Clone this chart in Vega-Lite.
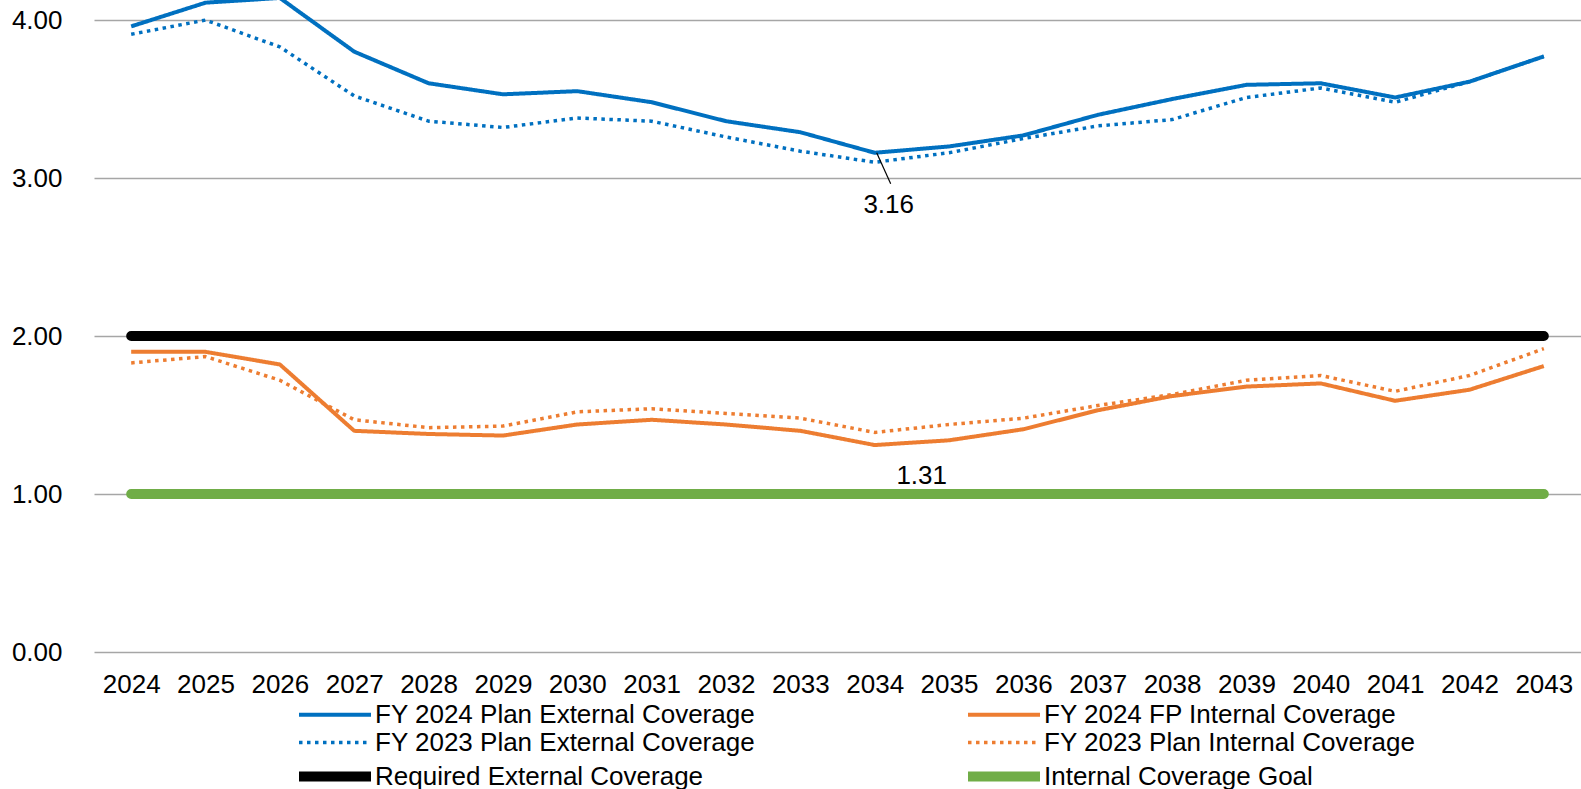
{
  "$schema": "https://vega.github.io/schema/vega-lite/v6.json",
  "width": 1487,
  "height": 652,
  "autosize": {"type": "none"},
  "padding": {"left": 94, "top": 0, "right": 0, "bottom": 137},
  "background": "white",
  "config": {
    "font": "Liberation Sans",
    "view": {"stroke": null},
    "legend": {
      "labelFont": "Liberation Sans",
      "labelFontSize": 26,
      "labelColor": "black",
      "labelLimit": 0,
      "labelOffset": 5,
      "symbolSize": 625,
      "padding": 0
    }
  },
  "data": {
    "values": [
      {"year": 2024, "series": "FY 2024 Plan External Coverage", "value": 3.96},
      {"year": 2025, "series": "FY 2024 Plan External Coverage", "value": 4.11},
      {"year": 2026, "series": "FY 2024 Plan External Coverage", "value": 4.14},
      {"year": 2027, "series": "FY 2024 Plan External Coverage", "value": 3.80},
      {"year": 2028, "series": "FY 2024 Plan External Coverage", "value": 3.60},
      {"year": 2029, "series": "FY 2024 Plan External Coverage", "value": 3.53},
      {"year": 2030, "series": "FY 2024 Plan External Coverage", "value": 3.55},
      {"year": 2031, "series": "FY 2024 Plan External Coverage", "value": 3.48},
      {"year": 2032, "series": "FY 2024 Plan External Coverage", "value": 3.36},
      {"year": 2033, "series": "FY 2024 Plan External Coverage", "value": 3.29},
      {"year": 2034, "series": "FY 2024 Plan External Coverage", "value": 3.16},
      {"year": 2035, "series": "FY 2024 Plan External Coverage", "value": 3.20},
      {"year": 2036, "series": "FY 2024 Plan External Coverage", "value": 3.27},
      {"year": 2037, "series": "FY 2024 Plan External Coverage", "value": 3.40},
      {"year": 2038, "series": "FY 2024 Plan External Coverage", "value": 3.50},
      {"year": 2039, "series": "FY 2024 Plan External Coverage", "value": 3.59},
      {"year": 2040, "series": "FY 2024 Plan External Coverage", "value": 3.60},
      {"year": 2041, "series": "FY 2024 Plan External Coverage", "value": 3.51},
      {"year": 2042, "series": "FY 2024 Plan External Coverage", "value": 3.61},
      {"year": 2043, "series": "FY 2024 Plan External Coverage", "value": 3.77},

      {"year": 2024, "series": "FY 2023 Plan External Coverage", "value": 3.91},
      {"year": 2025, "series": "FY 2023 Plan External Coverage", "value": 4.00},
      {"year": 2026, "series": "FY 2023 Plan External Coverage", "value": 3.83},
      {"year": 2027, "series": "FY 2023 Plan External Coverage", "value": 3.52},
      {"year": 2028, "series": "FY 2023 Plan External Coverage", "value": 3.36},
      {"year": 2029, "series": "FY 2023 Plan External Coverage", "value": 3.32},
      {"year": 2030, "series": "FY 2023 Plan External Coverage", "value": 3.38},
      {"year": 2031, "series": "FY 2023 Plan External Coverage", "value": 3.36},
      {"year": 2032, "series": "FY 2023 Plan External Coverage", "value": 3.26},
      {"year": 2033, "series": "FY 2023 Plan External Coverage", "value": 3.17},
      {"year": 2034, "series": "FY 2023 Plan External Coverage", "value": 3.10},
      {"year": 2035, "series": "FY 2023 Plan External Coverage", "value": 3.16},
      {"year": 2036, "series": "FY 2023 Plan External Coverage", "value": 3.25},
      {"year": 2037, "series": "FY 2023 Plan External Coverage", "value": 3.33},
      {"year": 2038, "series": "FY 2023 Plan External Coverage", "value": 3.37},
      {"year": 2039, "series": "FY 2023 Plan External Coverage", "value": 3.51},
      {"year": 2040, "series": "FY 2023 Plan External Coverage", "value": 3.57},
      {"year": 2041, "series": "FY 2023 Plan External Coverage", "value": 3.48},
      {"year": 2042, "series": "FY 2023 Plan External Coverage", "value": 3.61},
      {"year": 2043, "series": "FY 2023 Plan External Coverage", "value": 3.77},

      {"year": 2024, "series": "FY 2024 FP Internal Coverage", "value": 1.90},
      {"year": 2025, "series": "FY 2024 FP Internal Coverage", "value": 1.90},
      {"year": 2026, "series": "FY 2024 FP Internal Coverage", "value": 1.82},
      {"year": 2027, "series": "FY 2024 FP Internal Coverage", "value": 1.40},
      {"year": 2028, "series": "FY 2024 FP Internal Coverage", "value": 1.38},
      {"year": 2029, "series": "FY 2024 FP Internal Coverage", "value": 1.37},
      {"year": 2030, "series": "FY 2024 FP Internal Coverage", "value": 1.44},
      {"year": 2031, "series": "FY 2024 FP Internal Coverage", "value": 1.47},
      {"year": 2032, "series": "FY 2024 FP Internal Coverage", "value": 1.44},
      {"year": 2033, "series": "FY 2024 FP Internal Coverage", "value": 1.40},
      {"year": 2034, "series": "FY 2024 FP Internal Coverage", "value": 1.31},
      {"year": 2035, "series": "FY 2024 FP Internal Coverage", "value": 1.34},
      {"year": 2036, "series": "FY 2024 FP Internal Coverage", "value": 1.41},
      {"year": 2037, "series": "FY 2024 FP Internal Coverage", "value": 1.53},
      {"year": 2038, "series": "FY 2024 FP Internal Coverage", "value": 1.62},
      {"year": 2039, "series": "FY 2024 FP Internal Coverage", "value": 1.68},
      {"year": 2040, "series": "FY 2024 FP Internal Coverage", "value": 1.70},
      {"year": 2041, "series": "FY 2024 FP Internal Coverage", "value": 1.59},
      {"year": 2042, "series": "FY 2024 FP Internal Coverage", "value": 1.66},
      {"year": 2043, "series": "FY 2024 FP Internal Coverage", "value": 1.81},

      {"year": 2024, "series": "FY 2023 Plan Internal Coverage", "value": 1.83},
      {"year": 2025, "series": "FY 2023 Plan Internal Coverage", "value": 1.87},
      {"year": 2026, "series": "FY 2023 Plan Internal Coverage", "value": 1.72},
      {"year": 2027, "series": "FY 2023 Plan Internal Coverage", "value": 1.47},
      {"year": 2028, "series": "FY 2023 Plan Internal Coverage", "value": 1.42},
      {"year": 2029, "series": "FY 2023 Plan Internal Coverage", "value": 1.43},
      {"year": 2030, "series": "FY 2023 Plan Internal Coverage", "value": 1.52},
      {"year": 2031, "series": "FY 2023 Plan Internal Coverage", "value": 1.54},
      {"year": 2032, "series": "FY 2023 Plan Internal Coverage", "value": 1.51},
      {"year": 2033, "series": "FY 2023 Plan Internal Coverage", "value": 1.48},
      {"year": 2034, "series": "FY 2023 Plan Internal Coverage", "value": 1.39},
      {"year": 2035, "series": "FY 2023 Plan Internal Coverage", "value": 1.44},
      {"year": 2036, "series": "FY 2023 Plan Internal Coverage", "value": 1.48},
      {"year": 2037, "series": "FY 2023 Plan Internal Coverage", "value": 1.56},
      {"year": 2038, "series": "FY 2023 Plan Internal Coverage", "value": 1.63},
      {"year": 2039, "series": "FY 2023 Plan Internal Coverage", "value": 1.72},
      {"year": 2040, "series": "FY 2023 Plan Internal Coverage", "value": 1.75},
      {"year": 2041, "series": "FY 2023 Plan Internal Coverage", "value": 1.65},
      {"year": 2042, "series": "FY 2023 Plan Internal Coverage", "value": 1.75},
      {"year": 2043, "series": "FY 2023 Plan Internal Coverage", "value": 1.92},

      {"year": 2024, "series": "Required External Coverage", "value": 2},
      {"year": 2025, "series": "Required External Coverage", "value": 2},
      {"year": 2026, "series": "Required External Coverage", "value": 2},
      {"year": 2027, "series": "Required External Coverage", "value": 2},
      {"year": 2028, "series": "Required External Coverage", "value": 2},
      {"year": 2029, "series": "Required External Coverage", "value": 2},
      {"year": 2030, "series": "Required External Coverage", "value": 2},
      {"year": 2031, "series": "Required External Coverage", "value": 2},
      {"year": 2032, "series": "Required External Coverage", "value": 2},
      {"year": 2033, "series": "Required External Coverage", "value": 2},
      {"year": 2034, "series": "Required External Coverage", "value": 2},
      {"year": 2035, "series": "Required External Coverage", "value": 2},
      {"year": 2036, "series": "Required External Coverage", "value": 2},
      {"year": 2037, "series": "Required External Coverage", "value": 2},
      {"year": 2038, "series": "Required External Coverage", "value": 2},
      {"year": 2039, "series": "Required External Coverage", "value": 2},
      {"year": 2040, "series": "Required External Coverage", "value": 2},
      {"year": 2041, "series": "Required External Coverage", "value": 2},
      {"year": 2042, "series": "Required External Coverage", "value": 2},
      {"year": 2043, "series": "Required External Coverage", "value": 2},

      {"year": 2024, "series": "Internal Coverage Goal", "value": 1},
      {"year": 2025, "series": "Internal Coverage Goal", "value": 1},
      {"year": 2026, "series": "Internal Coverage Goal", "value": 1},
      {"year": 2027, "series": "Internal Coverage Goal", "value": 1},
      {"year": 2028, "series": "Internal Coverage Goal", "value": 1},
      {"year": 2029, "series": "Internal Coverage Goal", "value": 1},
      {"year": 2030, "series": "Internal Coverage Goal", "value": 1},
      {"year": 2031, "series": "Internal Coverage Goal", "value": 1},
      {"year": 2032, "series": "Internal Coverage Goal", "value": 1},
      {"year": 2033, "series": "Internal Coverage Goal", "value": 1},
      {"year": 2034, "series": "Internal Coverage Goal", "value": 1},
      {"year": 2035, "series": "Internal Coverage Goal", "value": 1},
      {"year": 2036, "series": "Internal Coverage Goal", "value": 1},
      {"year": 2037, "series": "Internal Coverage Goal", "value": 1},
      {"year": 2038, "series": "Internal Coverage Goal", "value": 1},
      {"year": 2039, "series": "Internal Coverage Goal", "value": 1},
      {"year": 2040, "series": "Internal Coverage Goal", "value": 1},
      {"year": 2041, "series": "Internal Coverage Goal", "value": 1},
      {"year": 2042, "series": "Internal Coverage Goal", "value": 1},
      {"year": 2043, "series": "Internal Coverage Goal", "value": 1}
    ]
  },
  "encoding": {
    "x": {
      "field": "year",
      "type": "ordinal",
      "scale": {"type": "point", "padding": 0.5},
      "axis": {
        "title": null,
        "labelAngle": 0,
        "domain": false,
        "ticks": false,
        "grid": false,
        "labelFont": "Liberation Sans",
        "labelFontSize": 26,
        "labelColor": "black",
        "labelPadding": 19
      }
    },
    "y": {
      "field": "value",
      "type": "quantitative",
      "scale": {"domain": [0, 4.127], "nice": false, "zero": true},
      "axis": {
        "title": null,
        "values": [0, 1, 2, 3, 4],
        "format": ".2f",
        "domain": false,
        "ticks": false,
        "grid": true,
        "gridColor": "#a6a6a6",
        "gridWidth": 1.3,
        "labelFont": "Liberation Sans",
        "labelFontSize": 26,
        "labelColor": "black",
        "labelPadding": 32
      }
    }
  },
  "layer": [
    {
      "transform": [
        {"filter": "datum.series === 'Required External Coverage' || datum.series === 'Internal Coverage Goal'"}
      ],
      "mark": {"type": "line", "strokeCap": "round", "clip": true},
      "encoding": {
        "color": {
          "field": "series",
          "type": "nominal",
          "scale": {
            "domain": ["FY 2024 Plan External Coverage", "FY 2023 Plan External Coverage", "Required External Coverage", "FY 2024 FP Internal Coverage", "FY 2023 Plan Internal Coverage", "Internal Coverage Goal"],
            "range": ["#0070c0", "#0070c0", "#000000", "#ed7d31", "#ed7d31", "#70ad47"]
          },
          "legend": {
            "title": null,
            "orient": "none",
            "legendX": 241,
            "legendY": 700,
            "columns": 2,
            "columnPadding": 192,
            "rowPadding": 0,
            "symbolType": "M-4.28,0H1.48"
          }
        },
        "strokeDash": {
          "field": "series",
          "type": "nominal",
          "scale": {
            "type": "ordinal",
            "domain": ["FY 2024 Plan External Coverage", "FY 2023 Plan External Coverage", "Required External Coverage", "FY 2024 FP Internal Coverage", "FY 2023 Plan Internal Coverage", "Internal Coverage Goal"],
            "range": [[1, 0], [3.5, 4.5], [1, 0], [1, 0], [3.5, 4.5], [1, 0]]
          },
          "legend": {"title": null, "symbolType": "M-4.28,0H1.48"}
        },
        "strokeWidth": {
          "field": "series",
          "type": "nominal",
          "scale": {
            "type": "ordinal",
            "domain": ["FY 2024 Plan External Coverage", "FY 2023 Plan External Coverage", "Required External Coverage", "FY 2024 FP Internal Coverage", "FY 2023 Plan Internal Coverage", "Internal Coverage Goal"],
            "range": [4, 3.5, 10, 4, 3.5, 10]
          },
          "legend": {"title": null, "symbolType": "M-4.28,0H1.48"}
        }
      }
    },
    {
      "transform": [
        {"filter": "datum.series !== 'Required External Coverage' && datum.series !== 'Internal Coverage Goal'"}
      ],
      "mark": {"type": "line", "strokeCap": "butt", "strokeJoin": "round", "clip": true},
      "encoding": {
        "color": {
          "field": "series",
          "type": "nominal",
          "scale": {
            "domain": ["FY 2024 Plan External Coverage", "FY 2023 Plan External Coverage", "Required External Coverage", "FY 2024 FP Internal Coverage", "FY 2023 Plan Internal Coverage", "Internal Coverage Goal"],
            "range": ["#0070c0", "#0070c0", "#000000", "#ed7d31", "#ed7d31", "#70ad47"]
          }
        },
        "strokeDash": {
          "field": "series",
          "type": "nominal",
          "scale": {
            "type": "ordinal",
            "domain": ["FY 2024 Plan External Coverage", "FY 2023 Plan External Coverage", "Required External Coverage", "FY 2024 FP Internal Coverage", "FY 2023 Plan Internal Coverage", "Internal Coverage Goal"],
            "range": [[1, 0], [3.5, 4.5], [1, 0], [1, 0], [3.5, 4.5], [1, 0]]
          }
        },
        "strokeWidth": {
          "field": "series",
          "type": "nominal",
          "scale": {
            "type": "ordinal",
            "domain": ["FY 2024 Plan External Coverage", "FY 2023 Plan External Coverage", "Required External Coverage", "FY 2024 FP Internal Coverage", "FY 2023 Plan Internal Coverage", "Internal Coverage Goal"],
            "range": [4, 3.5, 10, 4, 3.5, 10]
          }
        }
      }
    },
    {
      "data": {"values": [{"year": 2034, "value": 3.16, "label": "3.16"}]},
      "mark": {"type": "rule", "color": "black", "strokeWidth": 1.2, "xOffset": 2, "x2Offset": 16, "y2Offset": 31},
      "encoding": {
        "x2": {"field": "year"},
        "y2": {"field": "value"}
      }
    },
    {
      "data": {"values": [{"year": 2034, "value": 3.16, "label": "3.16"}]},
      "mark": {"type": "text", "font": "Liberation Sans", "fontSize": 26, "color": "black", "align": "center", "baseline": "middle", "dx": 14, "dy": 52},
      "encoding": {"text": {"field": "label"}}
    },
    {
      "data": {"values": [{"year": 2034, "value": 1.31, "label": "1.31"}]},
      "mark": {"type": "text", "font": "Liberation Sans", "fontSize": 26, "color": "black", "align": "center", "baseline": "middle", "dx": 47, "dy": 31},
      "encoding": {"text": {"field": "label"}}
    }
  ]
}
